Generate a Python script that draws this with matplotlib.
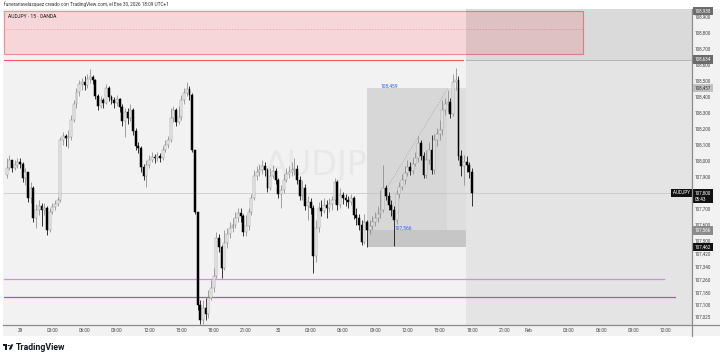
import matplotlib

matplotlib.use("Agg")
import matplotlib.pyplot as plt
import matplotlib.transforms as mtransforms
from matplotlib.patches import Rectangle, Polygon, Circle
from matplotlib.lines import Line2D

plt.rcParams["font.family"] = ["Roboto", "DejaVu Sans"]

W, H = 720, 358

# 15-minute AUDJPY candles, bar 0 = Jan 29 00:00, first visible bar is -5
FIRST_BAR = -5
FIRST_OPEN = 107.913
CLOSES = [
    107.956, 108.006, 107.956, 107.975, 107.994, 107.981, 107.894, 107.931, 107.769, 107.831,
    107.644, 107.694, 107.719, 107.694, 107.706, 107.569, 107.681, 107.713, 107.731, 107.756,
    108.131, 108.156, 108.144, 108.150, 108.256, 108.356, 108.431, 108.481, 108.494, 108.475,
    108.513, 108.525, 108.506, 108.406, 108.344, 108.381, 108.363, 108.456, 108.400, 108.381,
    108.363, 108.388, 108.338, 108.250, 108.306, 108.269, 108.319, 108.188, 108.094, 108.081,
    107.963, 107.906, 107.975, 108.006, 108.025, 108.019, 108.031, 108.019, 108.069, 108.100,
    108.131, 108.269, 108.319, 108.244, 108.275, 108.381, 108.425, 108.450, 108.413, 108.069,
    107.681, 107.100, 107.006, 107.081, 107.044, 107.144, 107.206, 107.281, 107.519, 107.463,
    107.331, 107.488, 107.544, 107.581, 107.600, 107.644, 107.675, 107.656, 107.556, 107.594,
    107.681, 107.769, 107.906, 107.931, 107.944, 107.969, 107.944, 107.831, 107.906, 107.938,
    107.881, 107.794, 107.819, 107.881, 107.919, 107.931, 107.944, 107.950, 107.881, 107.781,
    107.831, 107.719, 107.744, 107.706, 107.406, 107.581, 107.706, 107.688, 107.725, 107.706,
    107.731, 107.756, 107.869, 107.725, 107.788, 107.769, 107.756, 107.744, 107.769, 107.663,
    107.644, 107.600, 107.494, 107.619, 107.569, 107.594, 107.619, 107.644, 107.669, 107.694,
    107.831, 107.781, 107.725, 107.694, 107.631, 107.794, 107.838, 107.881, 107.925, 107.963,
    107.938, 107.981, 108.019, 108.113, 108.031, 107.913, 108.006, 108.069, 107.944, 108.131,
    108.169, 108.194, 108.319, 108.356, 108.369, 108.294, 108.494, 108.506, 108.031, 107.969,
    107.994, 107.975, 107.931, 107.800,
]
HIGHS = [
    108.019, 108.038, 108.006, 108.006, 108.019, 108.019, 107.994, 107.956, 107.931, 107.869,
    107.844, 107.731, 107.756, 107.738, 107.738, 107.719, 107.706, 107.738, 107.756, 107.775,
    108.150, 108.181, 108.169, 108.194, 108.288, 108.381, 108.456, 108.506, 108.519, 108.531,
    108.544, 108.575, 108.538, 108.513, 108.419, 108.406, 108.394, 108.481, 108.469, 108.413,
    108.400, 108.413, 108.394, 108.356, 108.331, 108.331, 108.356, 108.331, 108.206, 108.119,
    108.094, 107.981, 108.006, 108.038, 108.056, 108.044, 108.056, 108.050, 108.094, 108.131,
    108.156, 108.331, 108.344, 108.331, 108.344, 108.413, 108.456, 108.494, 108.469, 108.425,
    108.069, 107.681, 107.131, 107.131, 107.144, 107.194, 107.256, 107.331, 107.556, 107.544,
    107.475, 107.569, 107.581, 107.619, 107.644, 107.681, 107.706, 107.706, 107.669, 107.663,
    107.706, 107.794, 107.944, 107.969, 107.981, 108.006, 107.994, 107.956, 107.956, 107.975,
    107.956, 107.894, 107.850, 107.919, 107.956, 107.969, 107.994, 108.019, 107.975, 107.906,
    107.881, 107.856, 107.781, 107.769, 107.725, 107.631, 107.744, 107.756, 107.769, 107.756,
    107.769, 107.781, 107.894, 107.881, 107.831, 107.806, 107.794, 107.781, 107.794, 107.781,
    107.706, 107.669, 107.631, 107.669, 107.631, 107.631, 107.656, 107.681, 107.719, 107.819,
    107.975, 107.850, 107.806, 107.756, 107.719, 107.819, 107.869, 107.919, 107.969, 108.006,
    107.994, 108.019, 108.056, 108.156, 108.131, 108.056, 108.069, 108.119, 108.163, 108.169,
    108.206, 108.256, 108.381, 108.394, 108.444, 108.394, 108.544, 108.581, 108.531, 108.069,
    108.038, 108.031, 107.994, 107.956,
]
LOWS = [
    107.894, 107.944, 107.931, 107.944, 107.956, 107.956, 107.869, 107.850, 107.744, 107.738,
    107.619, 107.581, 107.663, 107.594, 107.663, 107.538, 107.556, 107.669, 107.694, 107.719,
    107.744, 108.100, 108.094, 108.081, 108.131, 108.244, 108.331, 108.406, 108.444, 108.444,
    108.456, 108.488, 108.481, 108.388, 108.319, 108.331, 108.331, 108.356, 108.375, 108.356,
    108.331, 108.344, 108.306, 108.219, 108.150, 108.231, 108.250, 108.163, 108.069, 108.050,
    107.931, 107.881, 107.838, 107.956, 107.994, 107.988, 108.000, 107.994, 108.006, 108.056,
    108.081, 108.119, 108.244, 108.219, 108.231, 108.256, 108.356, 108.406, 108.381, 108.056,
    107.669, 107.069, 106.981, 106.981, 107.006, 107.019, 107.131, 107.181, 107.269, 107.431,
    107.269, 107.319, 107.456, 107.519, 107.556, 107.581, 107.619, 107.619, 107.531, 107.531,
    107.569, 107.663, 107.756, 107.881, 107.906, 107.919, 107.906, 107.806, 107.819, 107.894,
    107.856, 107.769, 107.706, 107.800, 107.869, 107.894, 107.906, 107.913, 107.856, 107.756,
    107.756, 107.694, 107.631, 107.669, 107.300, 107.369, 107.556, 107.656, 107.675, 107.644,
    107.681, 107.694, 107.731, 107.694, 107.706, 107.731, 107.719, 107.706, 107.725, 107.638,
    107.600, 107.569, 107.475, 107.481, 107.463, 107.544, 107.569, 107.594, 107.619, 107.644,
    107.681, 107.756, 107.694, 107.656, 107.469, 107.606, 107.769, 107.819, 107.856, 107.906,
    107.913, 107.919, 107.969, 107.994, 108.006, 107.894, 107.894, 107.981, 107.919, 107.919,
    108.094, 108.131, 108.163, 108.288, 108.306, 108.269, 108.281, 108.444, 108.006, 107.906,
    107.850, 107.931, 107.894, 107.719,
]

TIME_TICKS = [0, 12, 24, 36, 48, 60, 72, 84, 96, 108, 120, 132, 144, 156, 168, 180,
              189, 204, 216, 228, 240]
TIME_LABELS = ["29", "03:00", "06:00", "09:00", "12:00", "15:00", "18:00", "21:00",
               "30", "03:00", "06:00", "09:00", "12:00", "15:00", "18:00", "21:00",
               "Feb", "03:00", "06:00", "09:00", "12:00"]
PRICE_TICKS = [108.9, 108.8, 108.7, 108.6, 108.5, 108.4, 108.3, 108.2, 108.1, 108.0,
               107.9, 107.7, 107.6, 107.5, 107.42, 107.34, 107.26, 107.18,
               107.1, 107.025]

# drawings on the chart (bar index / price)
X_MIN, X_MAX = -5.95, 249.8
Y_MIN, Y_MAX = 106.975, 108.95
RED_ZONE = (209.3, 108.938, 108.669)
RED_LINE = 108.634
RED_LINE_END = 164.7
FUTURE_START = 165.8
BOX_LEFT, BOX_SPLIT, BOX_RIGHT = 129.0, 158.7, 165.8
BOX_TOP, BOX_MID, BOX_BOTTOM = 108.457, 107.566, 107.462
TREND = ([136.4, 159.1], [107.831, 108.456])
PURPLE_LINES = [(107.2625, 239.4, "#d58ae4"), (107.150, 243.5, "#a55fa8")]
LAST_PRICE = 107.800

BG = "#f2f2f2"


def fx(px):
    return px / W


def fy(py):
    return 1 - py / H


fig = plt.figure(figsize=(W / 100, H / 100), dpi=100, facecolor="white")

# grey panel behind chart, time scale and price scale
fig.add_artist(Rectangle((fx(3), fy(336)), fx(720) - fx(3), fy(9) - fy(336),
                         transform=fig.transFigure, fc=BG, ec="none", zorder=0))

ax = fig.add_axes([fx(4), fy(325), fx(692) - fx(4), fy(9) - fy(325)])
ax.set_facecolor(BG)
ax.set_xlim(X_MIN, X_MAX)
ax.set_ylim(Y_MIN, Y_MAX)
for s in ax.spines.values():
    s.set_visible(False)

# watermark
ax.text(113.8, 107.975, "AUDJPY", fontsize=24, color="#e8e8e8", ha="center",
        va="center", zorder=0.5, family="DejaVu Sans")

# red supply zone
ax.add_patch(Rectangle((X_MIN, RED_ZONE[2]), RED_ZONE[0] - X_MIN, RED_ZONE[1] - RED_ZONE[2],
                       fc="#f6d6d8", ec="#f08c94", lw=0.8, zorder=1))
ax.plot([X_MIN, RED_ZONE[0]], [(RED_ZONE[1] + RED_ZONE[2]) / 2 + 0.02] * 2,
        color="#f2a0a6", lw=0.6, ls=(0, (1.5, 2)), zorder=1.1)
ax.plot([X_MIN, RED_LINE_END], [RED_LINE, RED_LINE], color="#f05a66", lw=0.8, zorder=1.1)

# future area shading and upper grey zone
ax.add_patch(Rectangle((FUTURE_START, Y_MIN), X_MAX - FUTURE_START, Y_MAX - Y_MIN,
                       fc="black", alpha=0.055, ec="none", zorder=1.5))
ax.add_patch(Rectangle((FUTURE_START, RED_LINE), X_MAX - FUTURE_START,
                       Y_MAX - RED_LINE, fc="black", alpha=0.045, ec="none", zorder=1.6))
ax.plot([FUTURE_START, X_MAX], [RED_LINE] * 2, color="#b4b4b4", lw=0.7, zorder=1.7)

# price range box
ax.add_patch(Rectangle((BOX_LEFT, BOX_MID), BOX_SPLIT - BOX_LEFT, BOX_TOP - BOX_MID,
                       fc="#d7d7d7", ec="none", zorder=1.8))
ax.add_patch(Rectangle((BOX_SPLIT, BOX_MID), BOX_RIGHT - BOX_SPLIT, BOX_TOP - BOX_MID,
                       fc="#dedede", ec="none", zorder=1.8))
ax.add_patch(Rectangle((BOX_LEFT, BOX_BOTTOM), BOX_RIGHT - BOX_LEFT, BOX_MID - BOX_BOTTOM,
                       fc="#c6c6c6", ec="none", zorder=1.8))
ax.plot(TREND[0], TREND[1], color="#8e8e8e", lw=0.5, ls=(0, (1, 2.2)), zorder=1.9)
ax.text(134.2, 108.469, "108,459", fontsize=3.5, color="#2962ff", va="center", zorder=4)
ax.text(139.4, 107.581, "107,566", fontsize=3.5, color="#2962ff", va="center", zorder=4)

# horizontal levels
for p, end, col in PURPLE_LINES:
    ax.plot([X_MIN, end], [p, p], color=col, lw=0.9, zorder=2)
ax.axhline(LAST_PRICE, color="#c4c4c4", lw=0.5, zorder=2)

# candles
opens = [FIRST_OPEN] + CLOSES[:-1]
xs = list(range(FIRST_BAR, FIRST_BAR + len(CLOSES)))
for x, o, h, l, c in zip(xs, opens, HIGHS, LOWS, CLOSES):
    up = c >= o
    wick = "#8a8a8a" if up else "#000000"
    ax.vlines(x, min(l, o, c), max(h, o, c), color=wick, lw=0.55, zorder=3)
    body = max(abs(c - o), 0.002)
    ax.add_patch(Rectangle((x - 0.36, min(o, c)), 0.72, body,
                           fc="#f7f7f7" if up else "#000000",
                           ec="#8a8a8a" if up else "#000000", lw=0.35, zorder=3.1))

# axes ticks
ax.set_xticks(TIME_TICKS)
ax.set_xticklabels(TIME_LABELS)
ax.yaxis.tick_right()
ax.set_yticks(PRICE_TICKS)
ax.set_yticklabels([f"{v:.3f}".replace(".", ",") for v in PRICE_TICKS])
ax.tick_params(axis="x", length=0, pad=2.4, labelsize=3.4, colors="#444444")
ax.tick_params(axis="y", length=0, pad=2.2, labelsize=3.3, colors="#444444")

# price tags
trans = mtransforms.blended_transform_factory(ax.transAxes, ax.transData)


def tag(price, text, fc, tc, x=1.004, ha="left", va="center"):
    ax.text(x, price, text, transform=trans, ha=ha, va=va, fontsize=3.3, color=tc,
            linespacing=1.3, clip_on=False, zorder=10,
            bbox=dict(boxstyle="square,pad=0.35", fc=fc, ec="none"))


tag(108.938, "108,938", "#6b6b6b", "white")
tag(108.634, "108,634", "#6b6b6b", "white")
tag(108.457, "108,457", "#c2c2c2", "#333333")
tag(107.566, "107,566", "#8c8c8c", "white")
tag(107.462, "107,462", "#111111", "white")
tag(107.8156, "107,800\n05:43", "#111111", "white", va="top")
tag(LAST_PRICE, "AUDJPY", "#111111", "white", x=0.997, ha="right")

# scale separators
fig.add_artist(Line2D([fx(692), fx(692)], [fy(9), fy(336)], transform=fig.transFigure,
                      color="#8c8c8c", lw=0.9, zorder=5))
fig.add_artist(Line2D([fx(3), fx(720)], [fy(325), fy(325)], transform=fig.transFigure,
                      color="#8c8c8c", lw=0.9, zorder=5))

# header texts
fig.text(fx(4), fy(4.5), "funerariavelasquez creado con TradingView.com, el Ene 30, 2026 18:09 UTC+1",
         fontsize=3.4, color="#333333", va="center")
fig.text(fx(8), fy(16), "AUDJPY · 15 · OANDA", fontsize=3.6, color="#131722", va="center",
         zorder=6)

# TradingView logo
s = 0.29


def lp(X, Y):
    return (fx(3 + X * s), fy(347 + (Y - 13) * s))


fig.add_artist(Polygon([lp(0, 4), lp(14, 4), lp(14, 22), lp(7, 22), lp(7, 11), lp(0, 11)],
                       closed=True, transform=fig.transFigure, fc="#131722", ec="none"))
fig.add_artist(Polygon([lp(20, 22), lp(27.5, 4), lp(35.5, 4), lp(28, 22)],
                       closed=True, transform=fig.transFigure, fc="#131722", ec="none"))
fig.add_artist(Circle(lp(20, 8), 4 * s / W, transform=fig.transFigure, fc="#131722", ec="none"))
fig.text(fx(15.5), fy(347), "TradingView", fontsize=6.3, weight="bold", color="#131722",
         va="center")

fig.savefig("out.png", dpi=100, facecolor="white")
